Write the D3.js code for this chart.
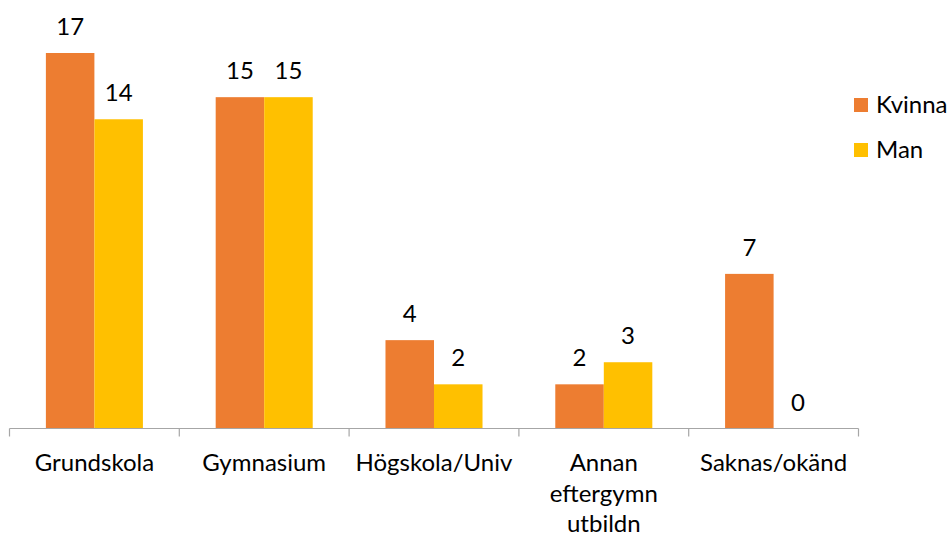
<!DOCTYPE html>
<html><head><meta charset="utf-8">
<script src="https://cdn.jsdelivr.net/npm/d3@7"></script>
<style>body{margin:0;background:#fff}text{font-family:Lato,"Open Sans",sans-serif;fill:#000}</style>
</head><body><svg id="c" width="952" height="538"></svg>
<script>
const categories = ["Grundskola","Gymnasium","Högskola/Univ","Annan eftergymn utbildn","Saknas/okänd"];
const categoryLines = [["Grundskola"],["Gymnasium"],["Högskola/Univ"],["Annan","eftergymn","utbildn"],["Saknas/okänd"]];
const seriesNames = ["Kvinna","Man"];
const kvinna = [17,15,4,2,7];
const man = [14,15,2,3,0];
const colors = ["#ED7D31","#FFC000"];

const FS = 24;
const svg = d3.select("#c");
const x0 = d3.scaleBand().domain(categories).range([9.5,858.5]).paddingInner(0).paddingOuter(0);
const x1 = d3.scaleBand().domain(seriesNames).range([0, x0.bandwidth()]).paddingInner(0).paddingOuter(0.75);
const y = d3.scaleLinear().domain([0,17]).range([428.5,53]);

const data = categories.map((c,i)=>({c, vals:[kvinna[i], man[i]]}));
const g = svg.append("g");
data.forEach(d=>{
  d.vals.forEach((v,j)=>{
    const xs = x0(d.c)+x1(seriesNames[j]);
    g.append("rect").attr("x",xs).attr("y",y(v)).attr("width",x1.bandwidth()).attr("height",y(0)-y(v)).attr("fill",colors[j]);
    g.append("text").attr("x",xs+x1.bandwidth()/2).attr("y",y(v)-18).attr("text-anchor","middle").attr("font-size",FS).text(v);
  });
});

// axis
const ax = svg.append("g").attr("transform","translate(0,428.5)");
ax.append("line").attr("x1",9.5).attr("x2",858.5).attr("stroke","#A6A6A6").attr("stroke-width",1.2);
const ticks = categories.map(c=>x0(c)).concat([x0(categories[categories.length-1])+x0.bandwidth()]);
ax.selectAll("line.t").data(ticks).enter().append("line").attr("class","t")
  .attr("x1",d=>d).attr("x2",d=>d).attr("y1",0).attr("y2",8).attr("stroke","#A6A6A6").attr("stroke-width",1.2);
categories.forEach((c,i)=>{
  const t = svg.append("text").attr("x",x0(c)+x0.bandwidth()/2).attr("y",471).attr("text-anchor","middle").attr("font-size",FS);
  categoryLines[i].forEach((ln,k)=>t.append("tspan").attr("x",x0(c)+x0.bandwidth()/2).attr("dy",k?30.5:0).text(ln));
});

// legend
const lg = svg.append("g");
seriesNames.forEach((s,i)=>{
  lg.append("rect").attr("x",854).attr("y",98+i*45).attr("width",14).attr("height",14).attr("fill",colors[i]);
  lg.append("text").attr("x",876).attr("y",113+i*45).attr("font-size",FS).text(s);
});
</script></body></html>
